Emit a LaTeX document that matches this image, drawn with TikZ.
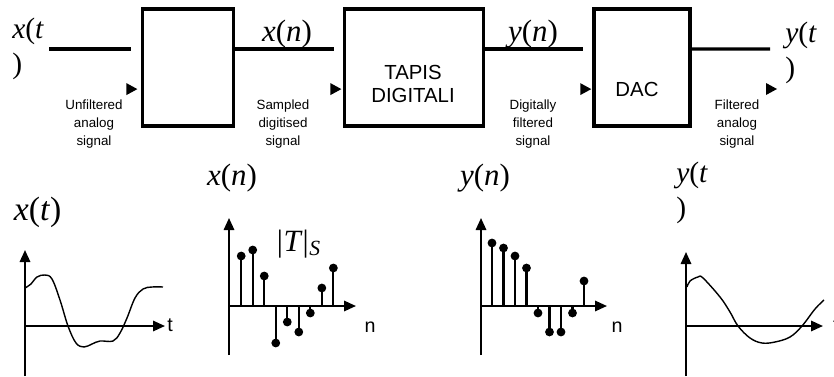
\documentclass[tikz,border=0pt]{standalone}
\usepackage{fontspec}
\setmainfont{Liberation Serif}
\setsansfont{Liberation Sans}
\usetikzlibrary{arrows.meta,positioning,calc}
\newcommand{\sig}[2]{\textit{#1}(\textit{#2})}
\newcommand{\sigtip}[1]{\fill (#1) -- ++(-0.275,0.15) -- ++(0,-0.3) -- cycle;}

\begin{document}
\begin{tikzpicture}[scale=1.0,
    blk/.style={draw, line width=2.2pt, inner sep=0pt, minimum height=2.925cm},
    wire/.style={line width=2.2pt},
    axis/.style={line width=1.4pt, -{Triangle[length=3mm,width=2.6mm]}},
    stem/.style={line width=1.5pt},
    wave/.style={line width=1pt},
    note/.style={font=\sffamily\fontsize{9.5}{12.8}\selectfont, align=center},
    lbl/.style={font=\fontsize{22}{26}\selectfont},
    lblw/.style={font=\fontsize{21}{25}\selectfont, align=left, anchor=north west, inner sep=0pt},
    ax/.style={font=\sffamily\fontsize{14}{16}\selectfont}]
    \useasboundingbox (0,0) rectangle (20.85,9.4);

    % blocks
    \node[blk, minimum width=2.275cm] (adc) at (4.69,7.7125) {};
    \node[blk, minimum width=3.475cm] (filt) at (10.34,7.7125) {};
    \node[blk, minimum width=2.4cm] (dac) at (16.05,7.7125) {};
    \node[font=\sffamily\fontsize{14.5}{17}\selectfont, align=center] (filttxt) at (10.325,7.3) {TAPIS\\DIGITALI};
    \node[font=\sffamily\fontsize{14.5}{17}\selectfont] (dactxt) at (15.925,7.175) {DAC};

    \coordinate (xin) at (1.225,8.175);
    \coordinate (yout) at (19.25,8.175);
    \draw[wire] (xin) -- ($(xin -| adc.west)+(-0.25,0)$);
    \draw[wire] ($(adc.east)+(0,0.4625)$) -- ($(filt.west)+(-0.225,0.4625)$);
    \draw[wire] ($(filt.east)+(0,0.4625)$) -- ($(dac.west)+(-0.225,0.4625)$);
    \draw[wire] ($(dac.east)+(0,0.4625)$) -- (yout);
    \sigtip{$(adc.west)+(-0.08,-0.54)$}
    \sigtip{$(filt.west)+(-0.03,-0.54)$}
    \sigtip{$(dac.west)+(-0.03,-0.54)$}
    \sigtip{$(yout)+(0.175,-1.0)$}

    \node[lblw] (xtl) at (0.3,8.95) {\textit{x}(\textit{t}\\)};
    \node[lbl] (xnl) at (7.175,8.55) {\sig{x}{n}};
    \node[lbl] (ynl) at (13.325,8.55) {\sig{y}{n}};
    \node[lblw] (ytl) at (19.625,8.85) {\textit{y}(\textit{t}\\)};

    \node[note] (n1) at (2.35,6.3) {Unfiltered\\analog\\signal};
    \node[note] (n2) at (7.075,6.3) {Sampled\\digitised\\signal};
    \node[note] (n3) at (13.325,6.3) {Digitally\\filtered\\signal};
    \node[note] (n4) at (18.425,6.3) {Filtered\\analog\\signal};

    \node[font=\fontsize{24}{28}\selectfont] (xtb) at (0.94,4.1) {\textit{x}(\textit{t})};
    \node[lbl] (xnb) at (5.8,4.95) {\sig{x}{n}};
    \node[lbl] (ynb) at (12.125,4.95) {\sig{y}{n}};
    \node[lblw] (ytb) at (16.9,5.35) {\textit{y}(\textit{t}\\)};
    \node[font=\fontsize{22}{26}\selectfont\itshape] (ts) at (7.45,3.3) {|T|\textsubscript{S}};

    % analog input
    \begin{scope}[shift={(0.625,1.25)}]
      \draw[axis] (0,-1.25) -- (0,1.9);
      \draw[axis] (0,0) -- (3.5,0);
      \draw[wave] plot[smooth, tension=0.6] coordinates {(0,0.95) (0.15,1.05) (0.3,1.225) (0.5,1.275) (0.675,1.175) (0.875,0.65) (1.075,0) (1.275,-0.425) (1.475,-0.525) (1.675,-0.45) (1.875,-0.375) (2.2,-0.375) (2.375,-0.175) (2.55,0.2) (2.75,0.7) (2.95,0.925) (3.175,0.975) (3.45,0.975)};
      \node[ax] (t1) at (3.625,0.025) {t};
    \end{scope}
    % samples
    \begin{scope}[shift={(5.725,1.75)}]
      \draw[axis] (0,-1.225) -- (0,2.2);
      \draw[axis] (0,0) -- (3.175,0);
      \foreach \v [count=\i from 0] in {1.25,1.4,0.75,-0.925,-0.4,-0.65,-0.175,0.45,0.95} {
        \draw[stem] (0.305+0.288*\i,0) -- (0.305+0.288*\i,\v);
        \fill (0.305+0.288*\i,\v) circle (0.11);
      }
      \node[ax] (n1ax) at (3.525,-0.525) {n};
    \end{scope}
    % filtered samples
    \begin{scope}[shift={(12.025,1.75)}]
      \draw[axis] (0,-1.225) -- (0,2.2);
      \draw[axis] (0,0) -- (3.15,0);
      \foreach \v [count=\i from 0] in {1.575,1.45,1.25,0.95,-0.175,-0.65,-0.65,-0.175,0.625} {
        \draw[stem] (0.275+0.2875*\i,0) -- (0.275+0.2875*\i,\v);
        \fill (0.275+0.2875*\i,\v) circle (0.11);
      }
      \node[ax] (n2ax) at (3.4,-0.525) {n};
    \end{scope}
    % analog output
    \begin{scope}[shift={(17.15,1.25)}]
      \draw[axis] (0,-1.25) -- (0,1.85);
      \draw[axis] (0,0) -- (3.425,0);
      \draw[wave] plot[smooth, tension=0.6] coordinates {(0.025,0.975) (0.1,1.125) (0.3,1.225) (0.425,1.2) (0.85,0.725) (1.1,0.35) (1.3,0) (1.6,-0.3) (1.9,-0.425) (2.225,-0.4) (2.6,-0.275) (2.9,0) (3.225,0.425) (3.45,0.65)};
      \node[ax, anchor=west, inner sep=0pt] (t2) at (3.67,0.02) {t};
    \end{scope}
  \end{tikzpicture}
\end{document}
